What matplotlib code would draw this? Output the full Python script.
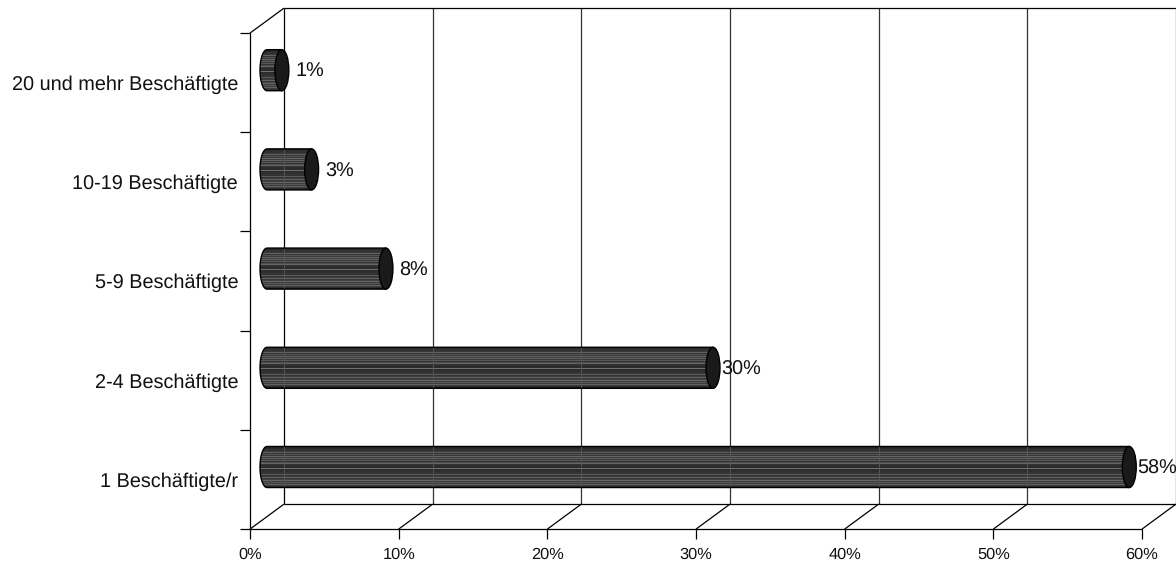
import numpy as np
import matplotlib
matplotlib.use('Agg')
import matplotlib.pyplot as plt
from matplotlib.patches import Ellipse, PathPatch
from matplotlib.path import Path

W, H = 1176, 563

categories = ['1 Beschäftigte/r', '2-4 Beschäftigte', '5-9 Beschäftigte',
              '10-19 Beschäftigte', '20 und mehr Beschäftigte']
values = [58, 30, 8, 3, 1]
value_labels = ['58%', '30%', '8%', '3%', '1%']
x_ticks = [0, 10, 20, 30, 40, 50, 60]
x_tick_labels = ['0%', '10%', '20%', '30%', '40%', '50%', '60%']

# grey level of each row of the striped bar body, top to bottom
stripes = [0.10, 0.15, 0.17, 0.19, 0.20, 0.22, 0.38, 0.20, 0.33, 0.22,
           0.40, 0.24, 0.38, 0.22, 0.35, 0.20, 0.30, 0.40, 0.20, 0.18,
           0.17, 0.44, 0.17, 0.18, 0.19, 0.21, 0.20, 0.36, 0.21, 0.24,
           0.38, 0.22, 0.26, 0.40, 0.24, 0.34, 0.24, 0.38, 0.24, 0.18, 0.10]

plt.rcParams['font.family'] = ['Liberation Sans', 'DejaVu Sans']
plt.rcParams['text.hinting'] = 'none'

fig = plt.figure(figsize=(W / 100, H / 100), dpi=100, facecolor='white')
ax = fig.add_axes([0, 0, 1, 1])
ax.set_axis_off()

PX_X = 892 / 60          # pixels per %
PX_Y = 496 / 5           # pixels per category
DX = 17 / PX_X           # half box depth, in %
DY = 12.5 / PX_Y         # half box depth, in category units
BAR_H = 0.207            # half bar height
CAP = 0.47               # half width of the end ellipse
LC = '#000000'
LW = 0.9
TXT = '#111111'


def seg(xs, ys, color=LC, lw=LW, z=2):
    ax.plot(xs, ys, color=color, lw=lw, zorder=z, solid_capstyle='butt')


x0, x1 = x_ticks[0], x_ticks[-1]
y0, y1 = -0.5, 4.5

# back wall and grid
for t in x_ticks:
    seg([t + DX, t + DX], [y0 + DY, y1 + DY], color='#333333' if t else LC)
seg([x0 + DX, x1 + DX], [y0 + DY, y0 + DY])
seg([x0 + DX, x1 + DX], [y1 + DY, y1 + DY])
seg([x0 - DX, x0 + DX], [y1 - DY, y1 + DY])

# floor
for t, lab in zip(x_ticks, x_tick_labels):
    seg([t - DX, t + DX], [y0 - DY, y0 + DY])
    seg([t - DX, t - DX], [y0 - DY, y0 - DY - 0.1])
    ax.text(t - DX, y0 - DY - 0.26, lab, ha='center', va='center',
            fontsize=11.8, color=TXT)
seg([x0 - DX, x1 - DX], [y0 - DY, y0 - DY])

# front axis
seg([x0 - DX, x0 - DX], [y0 - DY, y1 - DY])
for k in range(len(categories) + 1):
    seg([x0 - DX - 0.67, x0 - DX], [y0 - DY + k, y0 - DY + k])
for i, name in enumerate(categories):
    ax.text(x0 - DX - 0.8, i - DY - 0.02, name, ha='right', va='center', fontsize=14.3,
            color=TXT)

# bars
theta = np.linspace(np.pi / 2, 3 * np.pi / 2, 30)
for i, v in enumerate(values):
    xs = list(CAP * np.cos(theta)) + [v, v, 0]
    ys = list(i + BAR_H * np.sin(theta)) + [i - BAR_H, i + BAR_H, i + BAR_H]
    outline = Path(np.column_stack([xs, ys]))
    body = PathPatch(outline, facecolor='none', edgecolor=LC, lw=1.0, zorder=4)
    ax.add_patch(body)
    im = ax.imshow(np.array(stripes)[:, None], cmap='gray', vmin=0, vmax=1,
                   extent=(-CAP, v, i - BAR_H, i + BAR_H), aspect='auto',
                   interpolation='nearest', zorder=3)
    im.set_clip_path(body)
    # back wall lines showing through the bar
    for t in x_ticks[:-1]:
        if t + DX < v:
            seg([t + DX, t + DX], [i - BAR_H, i + BAR_H], color='#555555', lw=0.7, z=3.5)
    ax.add_patch(Ellipse((v, i), 2 * CAP, 2 * BAR_H, facecolor='#1a1a1a',
                         edgecolor=LC, lw=1.0, zorder=5))
    ax.text(v + 1.87, i - 0.02, value_labels[i], ha='center', va='center',
            fontsize=14.3, color=TXT, zorder=6)

ax.set_xlim(-267 / PX_X, (W - 267) / PX_X)
ax.set_ylim(-(H - 467) / PX_Y, 467 / PX_Y)

fig.savefig('out.png', dpi=100, facecolor='white')
